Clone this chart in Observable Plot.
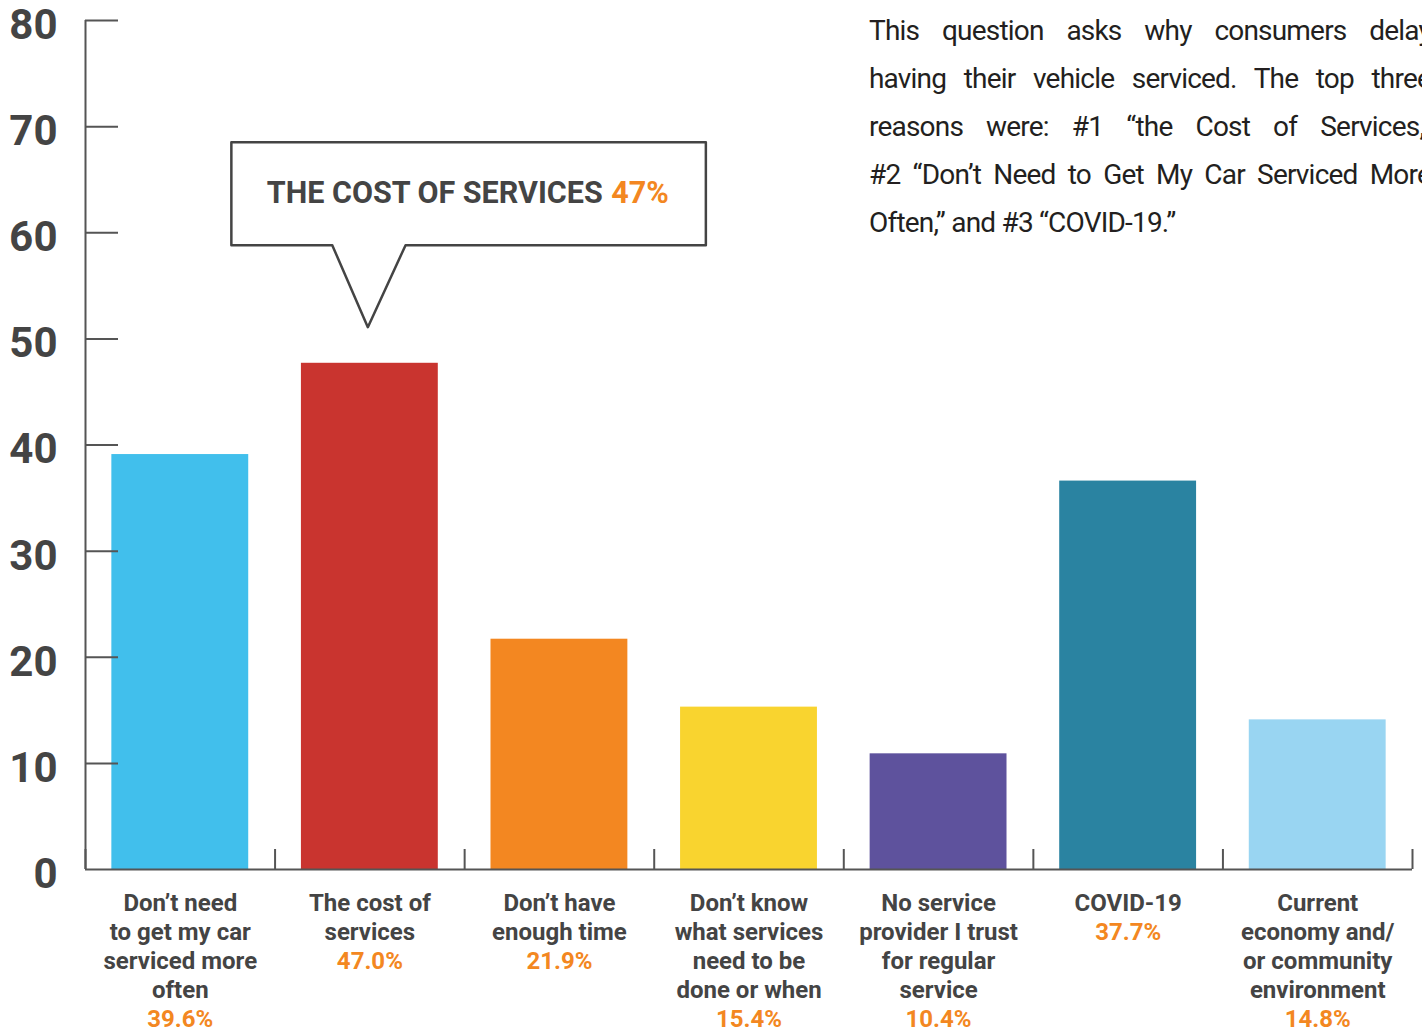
<!DOCTYPE html>
<html>
<head>
<meta charset="utf-8">
<script src="https://cdn.jsdelivr.net/npm/d3@7"></script>
<script src="https://cdn.jsdelivr.net/npm/@observablehq/plot@0.6"></script>
<style>
  html, body { margin: 0; padding: 0; background: #fff; overflow: hidden; }
  #wrap { position: relative; width: 1422px; height: 1032px; overflow: hidden; }
  #note {
    position: absolute; left: 869px; top: 7px; width: 562px;
    font-family: Roboto, sans-serif; font-size: 28px; line-height: 48px;
    color: #231f20; letter-spacing: -0.8px;
  }
  #note div { white-space: nowrap; height: 48px; }
  #note div.j { text-align: justify; text-align-last: justify; white-space: normal; }
</style>
</head>
<body>
<div id="wrap">
  <div id="chart"></div>
  <div id="note"></div>
</div>
<script>
// ---- data ----
const categories = [
  "Don’t need\nto get my car\nserviced more\noften",
  "The cost of\nservices",
  "Don’t have\nenough time",
  "Don’t know\nwhat services\nneed to be\ndone or when",
  "No service\nprovider I trust\nfor regular\nservice",
  "COVID-19",
  "Current\neconomy and/\nor community\nenvironment"
];
const barValues = [39.1, 47.7, 21.7, 15.3, 10.9, 36.6, 14.1];
const percentLabels = ["39.6%", "47.0%", "21.9%", "15.4%", "10.4%", "37.7%", "14.8%"];
const barColors = ["#41bfec", "#c9342f", "#f38721", "#f9d42f", "#5e529d", "#2a83a1", "#99d5f2"];
const yTicks = [0, 10, 20, 30, 40, 50, 60, 70, 80];
const calloutLabel = "THE COST OF SERVICES";
const calloutValue = "47%";
const noteLines = [
  "This question asks why consumers delay",
  "having their vehicle serviced. The top three",
  "reasons were: #1 “the Cost of Services,”",
  "#2 “Don’t Need to Get My Car Serviced More",
  "Often,” and #3 “COVID-19.”"
];
const justifiedLines = 4;

const note = document.getElementById("note");
noteLines.forEach((t, i) => {
  const d = document.createElement("div");
  if (i < justifiedLines) d.className = "j";
  d.textContent = t;
  note.appendChild(d);
});

// ---- layout ----
const W = 1422, H = 1032;
const mL = 85, mR = 10, mT = 20, mB = 163;
const n = categories.length;
const pxX = n / (W - mL - mR);          // x units per pixel
const pxY = 80 / (H - mT - mB);         // y units per pixel
const inset = 0.139;                    // half-gap inside each band

const data = categories.map((c, i) => ({
  i, cat: c, v: barValues[i], pct: percentLabels[i], color: barColors[i],
  pctText: "\n".repeat(c.split("\n").length) + percentLabels[i]
}));

// callout anchored at the highlighted bar
const hi = 1;
const ax = hi + 0.5 - 2 * pxX, ay = barValues[hi] + 3.4;
const boxL = ax - 136.5 * pxX, boxR = ax + 338 * pxX;
const boxB = ay + 82 * pxY, boxT = ay + 185 * pxY;
const baseL = ax - 35.6 * pxX, baseR = ax + 37.7 * pxX;
const calloutPath = [
  {x: baseL, y: boxB}, {x: ax, y: ay}, {x: baseR, y: boxB}, {x: boxR, y: boxB},
  {x: boxR, y: boxT}, {x: boxL, y: boxT}, {x: boxL, y: boxB}, {x: baseL, y: boxB}
];
const textY = (boxB + boxT) / 2;

const gray = "#444444";
const orange = "#f38721";

const chart = Plot.plot({
  width: W, height: H,
  marginLeft: mL, marginRight: mR, marginTop: mT, marginBottom: mB,
  style: {fontFamily: "Roboto, sans-serif", background: "#fff", overflow: "visible"},
  x: {domain: [0, n], axis: null},
  y: {domain: [0, 80]},
  color: {type: "identity"},
  marks: [
    Plot.rectY(data, {x1: d => d.i + inset, x2: d => d.i + 1 - inset, y1: 0, y2: "v", fill: "color"}),
    // y axis
    Plot.axisY(yTicks, {tickSize: 0, tickPadding: 28, fontSize: 42, fontWeight: 700, fill: gray, dy: 5}),
    Plot.ruleX([0], {y1: 0, y2: 80, stroke: "#555", strokeWidth: 2}),
    Plot.ruleY(yTicks.filter(t => t > 0), {x1: 0, x2: 33 * pxX, stroke: "#555", strokeWidth: 2}),
    // x baseline and band separators
    Plot.ruleY([0], {x1: 0, x2: n, stroke: "#555", strokeWidth: 2}),
    Plot.ruleX(d3.range(n + 1), {y1: 0, y2: 20 * pxY, stroke: "#555", strokeWidth: 2}),
    // category labels
    Plot.text(data, {x: d => d.i + 0.5, y: 0, text: "cat", lineAnchor: "top", dy: 21,
      fontSize: 24, fontWeight: 700, fill: gray, lineHeight: 29 / 24}),
    Plot.text(data, {x: d => d.i + 0.5, y: 0, text: "pctText", lineAnchor: "top", dy: 21,
      fontSize: 24, fontWeight: 700, fill: orange, lineHeight: 29 / 24}),
    // callout
    Plot.line(calloutPath, {x: "x", y: "y", stroke: gray, strokeWidth: 2.5, curve: "linear"}),
    Plot.text([calloutLabel], {x: boxL + 35.5 * pxX, y: textY, text: d => d, textAnchor: "start",
      fontSize: 30.5, fontWeight: 700, fill: gray}),
    Plot.text([calloutValue], {x: boxR - 37 * pxX, y: textY, text: d => d, textAnchor: "end",
      fontSize: 30.5, fontWeight: 700, fill: orange})
  ]
});
document.getElementById("chart").appendChild(chart);
</script>
</body>
</html>
